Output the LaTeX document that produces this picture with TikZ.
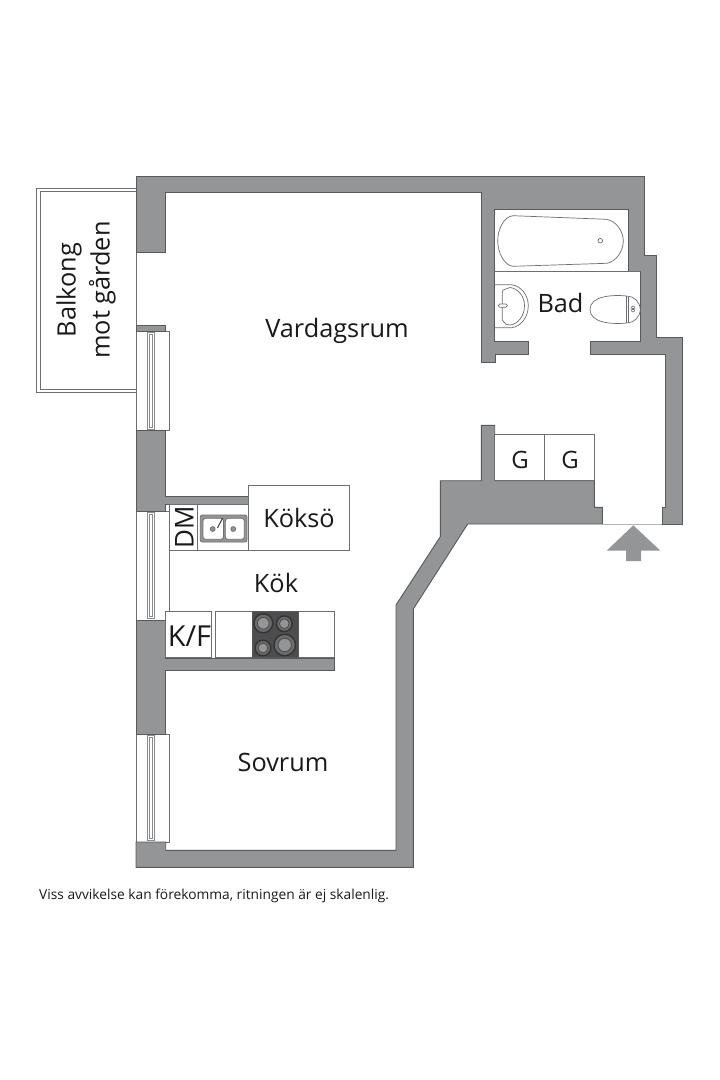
\documentclass[tikz,border=0pt]{standalone}
\usepackage{fontspec}
\setmainfont{Open Sans}
\usetikzlibrary{positioning}
\usetikzlibrary{calc}
\definecolor{wallgray}{HTML}{939596}
\definecolor{wallline}{HTML}{58595B}
\definecolor{fixline}{HTML}{6D6E71}
\definecolor{hobgray}{HTML}{4D4D4F}
\tikzset{
	wall/.style={fill=wallgray, draw=wallline, line width=.9pt, line join=miter},
	fixture/.style={fill=white, draw=fixline, line width=.8pt},
	sketch/.style={draw=fixline, line width=.7pt},
	room/.style={text=black!90, font=\fontsize{25.4}{34}\selectfont, inner sep=0pt, align=center},
	unit/.style={text=black!90, font=\fontsize{24}{28}\selectfont, inner sep=0pt},
}

\begin{document}
\begin{tikzpicture}[x=1bp, y=-1bp,
	sinkbowl/.style={fill=white, draw=fixline, line width=.8pt, rounded corners=2.5pt}]
	\useasboundingbox (0,0) rectangle (720,1080);
	\fill[white] (0,0) rectangle (720,1080);

	% balcony
	\draw[fixline, line width=.9pt] (136,188.3) -- (36.7,188.3) -- (36.7,392.7) -- (136,392.7);
	\draw[fixline, line width=.9pt] (136,191.3) -- (40,191.3) -- (40,389.3) -- (136,389.3);
	\draw[fixline, line width=.8pt] (136,252) -- (136,326);

	% windows
	\foreach \a/\b in {331/430.3, 511/620, 734/842}{
		\draw[fixture] (136,\a) rectangle (169.3,\b);
		\draw[fixture, line width=.5pt, draw=fixline!80] (147.3,\a+1.5) rectangle (154.3,\b-1.5);
		\draw[fixture, line width=.5pt, draw=fixline!80] (149.6,\a+3.5) rectangle (152.4,\b-3.5);
	}

	% walls
	\draw[wall] (136,176) -- (644.7,176) -- (644.7,255) -- (656.7,255) -- (656.7,337.7) -- (682.7,337.7)
		-- (682.7,524) -- (662,524) -- (662,507.3) -- (665.7,507.3) -- (665.7,354.3) -- (590,354.3)
		-- (590,341.7) -- (640.3,341.7) -- (640.3,271.7) -- (628,271.7) -- (628,209.3) -- (494.3,209.3)
		-- (494.3,341.7) -- (528.3,341.7) -- (528.3,354.3) -- (495,354.3) -- (495,362.3) -- (481.3,362.3)
		-- (481.3,192.7) -- (165.3,192.7) -- (165.3,252.3) -- (136,252.3) -- cycle;
	\draw[wall] (136,325.7) rectangle (165.5,331);
	\draw[wall] (136,430.3) -- (165,430.3) -- (165,496.7) -- (248.3,496.7) -- (248.3,504.7)
		-- (165,504.7) -- (165,511) -- (136,511) -- cycle;
	\draw[wall] (136,620) -- (165,620) -- (165,658) -- (334.7,658) -- (334.7,670.7)
		-- (165,670.7) -- (165,734) -- (136,734) -- cycle;
	\draw[wall] (136,842) -- (165.7,842) -- (165.7,850.3) -- (396,850.3) -- (396,605) -- (440.3,536.7)
		-- (440.3,480.7) -- (481.3,480.7) -- (481.3,425.3) -- (494.7,425.3) -- (494.7,480.7)
		-- (594.3,480.7) -- (594.3,507.3) -- (602.3,507.3) -- (602.3,524) -- (467.7,524)
		-- (413.3,609) -- (413.3,867.3) -- (136,867.3) -- cycle;
	\draw[wallgray!70, line width=.8pt] (602.3,524) -- (662,524);

	% entrance arrow
	\fill[wallgray] (633.3,525.3) -- (660.3,550.7) -- (641,550.7) -- (641,561)
		-- (626,561) -- (626,550.7) -- (606.7,550.7) -- cycle;

	% closets
	\draw[fixture] (494.7,434.7) rectangle (544.7,480.7);
	\draw[fixture] (544.7,434.7) rectangle (594.3,480.7);

	% bath
	\draw[sketch] (494.3,271.7) -- (640.3,271.7);
	\draw[sketch] (513,215.7) -- (606.7,219.3) .. controls (616,221) and (623.3,231) .. (623.3,241)
		.. controls (623.3,251) and (616,262) .. (606.7,263.3) -- (513,266.3)
		.. controls (504,265.5) and (497.7,252) .. (497.7,241)
		.. controls (497.7,229) and (504,216.5) .. (513,215.7) -- cycle;
	\draw[sketch] (600.3,240.7) circle (2.3);

	% basin
	\draw[sketch] (494.3,284.7) -- (511.7,284.7) .. controls (521,286) and (528.3,295) .. (528.3,305.7)
		.. controls (528.3,317) and (521,326.5) .. (511.7,327.7) -- (494.3,327.7);
	\draw[sketch] (503,290) -- (510,287.5) .. controls (518,288.5) and (524.5,296) .. (524.5,305.7)
		.. controls (524.5,316) and (518,324) .. (510,325) -- (506,324.3) -- (502.3,320) -- (502.3,293) -- cycle;
	\draw[sketch, fill=white, rounded corners=1.5pt] (498.3,304) rectangle (507.3,307.3);

	% toilet
	\draw[sketch] (626.7,296) .. controls (612,294.5) and (590,296) .. (590,309.5)
		.. controls (590,323) and (612,324.5) .. (626.7,323);
	\draw[sketch] (626,296) -- (626,323);
	\draw[sketch] (628,296.5) -- (628,322.5);
	\draw[sketch] (626.7,296) .. controls (634,296) and (640,302) .. (640.3,309.5)
		.. controls (640,317) and (634,323) .. (626.7,323);
	\draw[fixline, fill=white, line width=.6pt] (633,309) ellipse (2 and 3);
	\fill[black!70] (633,309) ellipse (1 and 1.5);

	% kitchen benches
	\draw[fixture] (169.3,504.7) rectangle (197.3,550.3);
	\draw[fixture] (197.3,504.7) rectangle (248.3,550.3);
	\draw[fixture] (248.3,485.7) rectangle (349,550.3);
	\draw[fixture] (165.7,611.7) rectangle (211.3,657.7);
	\draw[fixture] (215.7,611.7) rectangle (334.7,657.7);

	% sink
	\draw[fill=wallgray, draw=fixline, line width=.8pt, rounded corners=2pt] (200.3,515) rectangle (247,542);
	\draw[sinkbowl] (203,518.3) rectangle (223.5,539.3);
	\draw[sinkbowl] (225.3,518.3) rectangle (244.3,539.3);
	\foreach \a in {212.7, 233.3}
		\draw[fixline, fill=wallgray, line width=.8pt] (\a,529) circle (2.4);
	\draw[black!75, line width=1pt] (222.7,518) -- (217.5,528);

	% hob
	\fill[hobgray] (252,611.7) rectangle (298,657.7);
	\draw[wallline, line width=.8pt] (252,611.7) rectangle (298,657.7);
	\foreach \a/\b/\c in {263.3/623.3/9.5, 284.3/623.7/7.8, 263/648/7.8, 284.7/645/10.8}{
		\draw[black!80, line width=1.4pt, fill=gray!60!hobgray] (\a,\b) circle (\c);
		\draw[black!70, line width=.8pt, fill=wallgray] (\a,\b) circle ({\c*.62});
	}

	% labels
	\node[room] (vardagsrum) at (337,330.5) {Vardagsrum};
	\node[room] (sovrum) at (283,762) {Sovrum};
	\node[room] (kok) at (276,583.5) {Kök};
	\node[room] (koksoe) at (299,518.5) {Köksö};
	\node[room] (bad) at (560.5,303) {Bad};
	\node[room, rotate=90] (balkong) at (86,290) {Balkong\\mot gården};
	\node[unit] (g1) at (520,459.5) {G};
	\node[unit] (g2) at (570,459.5) {G};
	\node[unit, font=\fontsize{29}{32}\selectfont] (kf) at (189.5,636) {K/F};
	\node[unit, font=\fontsize{26}{28}\selectfont, rotate=90] (dm) at (184.5,527.5) {DM};
	\node[inner sep=0pt, font=\fontsize{13.8}{16}\selectfont, text=black!90, anchor=west] (note) at (39,896)
		{Viss avvikelse kan förekomma, ritningen är ej skalenlig.};
\end{tikzpicture}
\end{document}
